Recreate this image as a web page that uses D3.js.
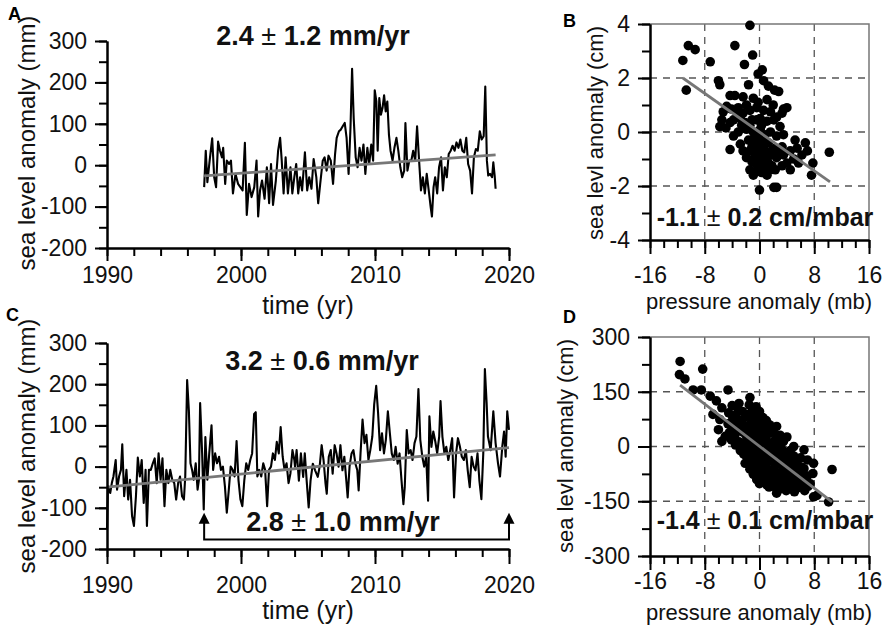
<!DOCTYPE html>
<html>
<head>
<meta charset="utf-8">
<script src="https://cdn.jsdelivr.net/npm/d3@7"></script>
<style>
  body { margin: 0; background: #fff; }
  svg { display: block; font-family: "Liberation Sans", Arial, sans-serif; }
  .axis path, .axis line { stroke: #000; stroke-width: 2; }
  .axis text { font-size: 23px; fill: #111; font-family: "Liberation Sans", Arial, sans-serif; }
  .grid { stroke: #555; stroke-width: 1.3; stroke-dasharray: 7,6; }
  .frame { stroke: #777; stroke-width: 1.5; fill: none; }
  .series { fill: none; stroke: #000; stroke-width: 2.1; stroke-linejoin: round; }
  .fit { stroke: #777; stroke-width: 2.8; fill: none; }
  .lbl { fill: #111; }
  .panel { font-size: 18px; font-weight: bold; }
  .note { font-weight: bold; fill: #111; }
</style>
</head>
<body>
<svg id="fig" width="882" height="626"></svg>
<script>
// tick labels
var yearTicks = [1990, 2000, 2010, 2020];
var seaTicks = [-200, -100, 0, 100, 200, 300];
var pressTicks = [-16, -8, 0, 8, 16];
var slaTicksB = [-4, -2, 0, 2, 4];
var slaTicksD = [-300, -150, 0, 150, 300];

// panel A: sea level anomaly (mm)
var seriesA = [[1997.25,-53],[1997.37,35],[1997.49,-41],[1997.66,11],[1997.85,65],[1998.00,-29],[1998.14,-53],[1998.29,57],[1998.43,35],[1998.58,19],[1998.67,42],[1998.82,-45],[1998.94,11],[1999.11,3],[1999.25,11],[1999.40,-68],[1999.59,-21],[1999.78,-45],[1999.95,-53],[2000.12,-61],[2000.29,54],[2000.43,-120],[2000.60,-45],[2000.79,-77],[2000.99,-53],[2001.16,11],[2001.28,-124],[2001.42,-61],[2001.57,-37],[2001.76,-81],[2001.93,-5],[2002.10,-92],[2002.24,3],[2002.39,-96],[2002.60,-37],[2002.77,35],[2002.92,66],[2003.04,11],[2003.18,-68],[2003.33,19],[2003.50,-68],[2003.69,-5],[2003.83,-68],[2003.98,-29],[2004.12,3],[2004.27,-68],[2004.41,-29],[2004.56,-61],[2004.77,31],[2004.94,-61],[2005.09,-29],[2005.26,-57],[2005.42,15],[2005.62,-29],[2005.76,-92],[2005.91,-45],[2006.10,11],[2006.24,19],[2006.39,-13],[2006.53,23],[2006.70,11],[2006.87,-45],[2007.02,27],[2007.14,66],[2007.31,82],[2007.45,86],[2007.59,94],[2007.74,102],[2007.88,66],[2008.03,-21],[2008.17,90],[2008.29,233],[2008.41,114],[2008.56,19],[2008.70,-5],[2008.85,42],[2008.99,11],[2009.14,50],[2009.28,-21],[2009.43,42],[2009.57,3],[2009.72,50],[2009.86,11],[2009.98,181],[2010.10,154],[2010.20,35],[2010.32,162],[2010.44,122],[2010.56,138],[2010.68,169],[2010.80,130],[2010.92,154],[2011.04,74],[2011.16,35],[2011.31,11],[2011.45,42],[2011.60,66],[2011.74,35],[2011.89,-5],[2012.03,-29],[2012.18,-13],[2012.27,102],[2012.42,-13],[2012.56,11],[2012.71,11],[2012.85,35],[2013.00,11],[2013.14,94],[2013.29,11],[2013.43,-61],[2013.57,-29],[2013.72,-68],[2013.86,-21],[2014.01,-61],[2014.15,-100],[2014.25,-124],[2014.37,-53],[2014.49,-29],[2014.64,-68],[2014.78,-5],[2014.93,19],[2015.07,-61],[2015.21,-5],[2015.36,-29],[2015.50,27],[2015.65,35],[2015.79,47],[2015.94,35],[2016.08,55],[2016.23,42],[2016.37,62],[2016.52,35],[2016.66,31],[2016.81,66],[2016.95,3],[2017.10,-13],[2017.24,-68],[2017.38,19],[2017.53,39],[2017.67,35],[2017.82,82],[2017.96,62],[2018.11,70],[2018.23,190],[2018.35,11],[2018.45,-25],[2018.59,-21],[2018.74,-29],[2018.83,7],[2018.93,-25],[2019.00,-57]];
var trendA = [[1997.25, -26], [2019.0, 25]];

// panel C
var seriesC = [[1990.00,-152],[1990.07,-48],[1990.24,-64],[1990.36,-40],[1990.48,-24],[1990.65,16],[1990.75,-56],[1990.90,-24],[1991.04,-8],[1991.14,54],[1991.28,-72],[1991.45,-8],[1991.58,-80],[1991.72,-32],[1991.87,-120],[1992.01,-144],[1992.16,-72],[1992.30,22],[1992.45,-24],[1992.59,16],[1992.74,-88],[1992.88,-8],[1992.98,-144],[1993.13,-8],[1993.27,-8],[1993.42,8],[1993.56,20],[1993.71,-40],[1993.85,32],[1994.00,-32],[1994.14,20],[1994.29,-96],[1994.43,-8],[1994.58,-40],[1994.72,-8],[1994.87,-32],[1995.02,-40],[1995.16,-80],[1995.31,-40],[1995.45,-24],[1995.60,-72],[1995.74,-80],[1995.84,-24],[1995.98,210],[1996.11,136],[1996.23,8],[1996.35,-8],[1996.47,-32],[1996.62,8],[1996.76,-56],[1996.86,-32],[1996.95,154],[1997.10,32],[1997.22,-104],[1997.34,72],[1997.49,-32],[1997.63,32],[1997.80,100],[1997.92,-8],[1998.07,32],[1998.21,8],[1998.36,24],[1998.50,-8],[1998.65,0],[1998.80,-48],[1998.94,-112],[1999.09,-56],[1999.23,0],[1999.38,-8],[1999.52,-24],[1999.67,62],[1999.81,-32],[1999.96,-80],[2000.10,-96],[2000.25,-32],[2000.39,8],[2000.54,-8],[2000.69,16],[2000.83,32],[2000.98,128],[2001.10,132],[2001.22,-24],[2001.36,-8],[2001.51,-24],[2001.66,8],[2001.80,-8],[2001.95,-96],[2002.09,-8],[2002.24,0],[2002.38,32],[2002.53,16],[2002.67,60],[2002.82,32],[2002.96,96],[2003.11,24],[2003.25,-8],[2003.40,8],[2003.55,-40],[2003.69,-16],[2003.84,40],[2003.98,16],[2004.03,0],[2004.15,40],[2004.32,-34],[2004.47,32],[2004.64,-25],[2004.76,32],[2004.90,-34],[2005.05,-99],[2005.19,-34],[2005.36,7],[2005.53,-9],[2005.73,-25],[2005.87,0],[2006.02,52],[2006.16,16],[2006.31,-42],[2006.40,-66],[2006.55,24],[2006.70,40],[2006.84,-17],[2006.99,52],[2007.13,32],[2007.28,0],[2007.42,52],[2007.57,-9],[2007.71,24],[2007.86,-34],[2007.96,-75],[2008.10,0],[2008.25,32],[2008.39,40],[2008.54,7],[2008.68,-9],[2008.78,-58],[2008.92,32],[2009.07,114],[2009.22,57],[2009.36,77],[2009.51,16],[2009.65,40],[2009.80,73],[2009.94,151],[2010.09,196],[2010.23,130],[2010.38,40],[2010.52,81],[2010.67,32],[2010.81,65],[2010.96,134],[2011.11,81],[2011.25,32],[2011.40,16],[2011.54,48],[2011.69,7],[2011.83,32],[2011.98,-34],[2012.12,-91],[2012.22,-50],[2012.37,89],[2012.51,32],[2012.66,40],[2012.80,16],[2012.95,57],[2013.09,73],[2013.24,188],[2013.38,65],[2013.53,24],[2013.67,0],[2013.82,24],[2013.96,-83],[2014.06,122],[2014.21,48],[2014.35,85],[2014.50,61],[2014.64,32],[2014.79,73],[2014.89,159],[2015.03,73],[2015.18,32],[2015.32,48],[2015.47,16],[2015.61,40],[2015.76,69],[2015.90,-75],[2016.05,32],[2016.19,69],[2016.34,48],[2016.48,24],[2016.63,16],[2016.78,40],[2016.92,-9],[2017.07,-50],[2017.21,24],[2017.36,0],[2017.50,-9],[2017.65,32],[2017.79,-34],[2017.94,-79],[2018.08,32],[2018.20,237],[2018.33,155],[2018.43,73],[2018.63,40],[2018.83,134],[2019.00,57],[2019.18,8],[2019.33,-24],[2019.50,49],[2019.63,85],[2019.75,24],[2019.87,134],[2020.00,89]];
var trendC = [[1990, -50], [2020, 46]];
var bracketC = [1997.25, 2020];

// panel B: pressure anomaly (mb) vs sea level anomaly (cm)
var scatterB = [[-1.4,3.95],[-10.4,3.2],[-9.4,3.05],[-11.2,2.65],[-7.2,2.6],[-3.6,3.2],[-1.0,2.85],[-2.2,2.5],[0.4,2.3],[-0.2,2.15],[-10.7,1.55],[-6.0,1.9],[-5.8,1.75],[-1.6,1.75],[0.6,1.9],[1.3,1.7],[2.2,1.55],[2.8,1.5],[-4.3,1.35],[-3.6,1.35],[-2.4,1.3],[-0.9,1.25],[-0.2,1.1],[1.1,1.2],[2.0,1.0],[3.5,0.85],[4.0,0.9],[3.3,0.7],[-4.8,0.95],[-5.3,0.75],[-4.1,0.85],[-3.1,0.9],[-1.9,1.0],[-1.4,0.8],[-0.4,0.9],[0.6,0.8],[1.6,0.75],[2.5,0.55],[-5.5,0.45],[-5.8,0.2],[-4.9,0.15],[-3.8,0.45],[-2.8,0.5],[-2.1,0.35],[-1.1,0.45],[0.1,0.5],[1.1,0.4],[2.1,0.45],[3.0,0.2],[-3.1,0.0],[-3.8,-0.15],[-4.3,-0.65],[-2.8,-0.45],[-1.9,0.1],[-0.9,0.0],[0.1,0.1],[0.8,-0.1],[1.6,0.0],[2.5,-0.15],[3.5,-0.1],[-1.6,-0.3],[-0.9,-0.45],[-0.2,-0.35],[0.6,-0.55],[1.3,-0.4],[2.3,-0.6],[3.3,-0.55],[-1.4,-0.7],[-0.6,-0.9],[0.1,-0.75],[0.8,-0.95],[1.6,-0.85],[2.5,-0.95],[3.5,-0.85],[4.5,-0.7],[5.5,-0.6],[5.2,-0.3],[6.7,-0.4],[7.0,-0.7],[6.2,-0.85],[5.0,-1.0],[4.0,-1.15],[-1.1,-1.1],[-0.4,-1.2],[0.6,-1.3],[1.3,-1.15],[2.3,-1.4],[3.3,-1.25],[0.3,-1.5],[1.1,-1.6],[7.8,-1.15],[7.6,-1.6],[10.2,-0.75],[-0.9,-1.6],[2.1,-2.05],[2.5,-2.05],[0.0,-2.15],[5.7,-1.15],[4.5,-1.4],[-1.4,-1.4],[-1.9,-0.95],[-2.4,-0.7],[1.6,-1.4],[-0.6,-0.65],[-0.4,0.45],[0.3,0.25],[-1.4,0.25],[-2.4,0.7],[-3.2,0.65],[-4.3,0.35],[-2.6,0.25],[1.1,-1.0],[1.8,-0.7],[2.8,-0.75],[0.1,-1.15],[0.8,-0.7],[0.1,-0.15],[-0.6,-0.2],[0.8,-0.3],[-1.1,-0.55],[0.3,-0.6],[-0.4,-0.95],[0.8,-1.15],[1.8,-1.25],[-0.4,-1.45]];
var fitB = [[-11.2, 2.0], [10.3, -1.85]];

// panel D
var scatterD = [[-11.6,233],[-11.7,197],[-10.9,185],[-8.3,212],[-9.7,155],[-8.5,155],[-4.6,155],[-7.2,138],[-1.4,134],[-6.3,125],[-5.5,106],[-6.8,88],[-3.1,97],[-5.8,74],[-6.0,46],[-5.0,28],[-5.5,14],[-4.1,18],[10.6,-63],[7.9,-46],[7.8,-74],[7.4,-102],[7.9,-138],[8.4,-134],[10.1,-152],[2.5,55],[5.0,0],[6.5,-9],[7.0,-37],
  [-4.5,92],[-4.6,62],[-4.4,38],[-4.0,112],[-3.9,78],[-3.8,52],[-4.1,24],[-3.5,86],[-3.4,61],[-3.6,31],[-3.5,4],[-3.0,118],[-2.9,72],[-3.1,44],[-3.0,13],[-2.8,-11],[-2.5,96],[-2.6,66],[-2.4,39],[-2.5,9],[-2.3,-21],[-2.0,82],[-2.1,54],[-1.9,29],[-2.0,4],[-1.9,-27],[-2.1,-46],[-1.5,114],[-1.6,88],[-1.4,61],[-1.5,33],[-1.4,11],[-1.6,-16],[-1.5,-41],[-1.4,-62],[-1.0,101],[-0.9,74],[-1.1,51],[-1.0,24],[-0.9,1],[-1.1,-26],[-1.0,-49],[-0.9,-76],[-0.5,109],[-0.6,84],[-0.4,59],[-0.5,36],[-0.6,9],[-0.4,-14],[-0.5,-41],[-0.6,-64],[-0.4,-91],[0.0,96],[0.1,69],[-0.1,46],[0.0,19],[0.1,-6],[-0.1,-31],[0.0,-54],[0.1,-81],[0.0,-102],[0.5,79],[0.6,56],[0.4,29],[0.5,6],[0.6,-21],[0.4,-44],[0.5,-71],[0.6,-96],[1.0,71],[1.1,44],[0.9,21],[1.0,-4],[1.1,-31],[0.9,-54],[1.0,-81],[1.1,-106],[1.5,59],[1.4,36],[1.6,9],[1.5,-16],[1.4,-39],[1.6,-66],[1.5,-89],[1.4,-111],[2.0,41],[2.1,14],[1.9,-11],[2.0,-36],[2.1,-59],[1.9,-86],[2.0,-109],[2.5,24],[2.4,1],[2.6,-26],[2.5,-49],[2.4,-76],[2.6,-99],[2.5,-128],[3.0,31],[3.1,4],[2.9,-21],[3.0,-44],[3.1,-71],[2.9,-94],[3.0,-116],[3.5,14],[3.4,-11],[3.6,-36],[3.5,-59],[3.4,-86],[3.6,-109],[4.0,26],[4.1,-21],[3.9,-44],[4.0,-71],[4.1,-94],[3.9,-121],[4.5,-11],[4.4,-34],[4.6,-61],[4.5,-84],[4.4,-107],[5.0,-26],[5.1,-51],[4.9,-74],[5.0,-99],[5.1,-124],[5.5,-41],[5.4,-64],[5.6,-91],[5.5,-114],[6.0,-31],[6.1,-56],[5.9,-79],[6.0,-104],[6.5,-61],[6.4,-89],[6.6,-121],[7.0,-81],[7.1,-109]];
var fitD = [[-11.6, 168], [10.6, -152]];

var svg = d3.select('#fig');
var fmt = function(d) { return d < 0 ? '-' + Math.abs(d) : String(d); };

function rateText(g, x, y, size, a, b) {
  var t = g.append('text').attr('class', 'note').attr('x', x).attr('y', y)
    .attr('text-anchor', 'middle').attr('font-size', size);
  t.append('tspan').text(a + ' ');
  t.append('tspan').attr('font-weight', 'normal').text('\u00b1');
  t.append('tspan').text(' ' + b);
}

function drawAxes(g, x, y, o) {
  var bottom = y.range()[0], left = x.range()[0];
  g.append('g').attr('class', 'axis').attr('transform', 'translate(0,' + bottom + ')')
    .call(d3.axisBottom(x).tickValues(o.xMinor).tickSize(o.minor).tickSizeOuter(0).tickFormat(''));
  g.append('g').attr('class', 'axis').attr('transform', 'translate(0,' + bottom + ')')
    .call(d3.axisBottom(x).tickValues(o.xTicks).tickSize(o.major).tickPadding(o.xPad).tickSizeOuter(0).tickFormat(fmt));
  g.append('g').attr('class', 'axis').attr('transform', 'translate(' + left + ',0)')
    .call(d3.axisLeft(y).tickValues(o.yMinor).tickSize(o.minor).tickSizeOuter(0).tickFormat(''));
  g.append('g').attr('class', 'axis').attr('transform', 'translate(' + left + ',0)')
    .call(d3.axisLeft(y).tickValues(o.yTicks).tickSize(12).tickPadding(8).tickSizeOuter(0).tickFormat(fmt));
}

function timePanel(o) {
  var g = svg.append('g');
  var x = d3.scaleLinear().domain([1990, 2020]).range([107, 509]);
  var y = d3.scaleLinear().domain([-200, 300]).range(o.yRange);
  var line = d3.line().x(function(d) { return x(d[0]); }).y(function(d) { return y(d[1]); });

  g.append('path').datum(o.data).attr('class', 'series').attr('d', line);
  g.append('path').datum(o.trend).attr('class', 'fit').attr('d', line);

  drawAxes(g, x, y, {
    xTicks: yearTicks, xMinor: d3.range(1990, 2021, 2),
    yTicks: seaTicks, yMinor: d3.range(-200, 301, 50),
    major: o.major, minor: 8, xPad: o.xPad
  });

  g.append('text').attr('class', 'lbl').attr('font-size', 25).attr('text-anchor', 'middle')
    .attr('x', 308).attr('y', o.xLabelY).text('time (yr)');
  g.append('text').attr('class', 'lbl').attr('font-size', 24).attr('text-anchor', 'middle')
    .attr('transform', 'translate(35,' + o.yLabelY + ') rotate(-90)').text('sea level anomaly (mm)');
  g.append('text').attr('class', 'panel').attr('x', o.letterX).attr('y', o.letterY).text(o.letter);
  return { g: g, x: x, y: y };
}

function scatterPanel(o) {
  var g = svg.append('g');
  var x = d3.scaleLinear().domain([-16, 16]).range([650, 869]);
  var y = d3.scaleLinear().domain(o.yDomain).range(o.yRange);
  var top = o.yRange[1], bottom = o.yRange[0];

  g.append('g').selectAll('line.v').data(o.xGrid).join('line').attr('class', 'grid')
    .attr('x1', function(d) { return x(d); }).attr('x2', function(d) { return x(d); })
    .attr('y1', top).attr('y2', bottom);
  g.append('g').selectAll('line.h').data(o.yGrid).join('line').attr('class', 'grid')
    .attr('x1', 650).attr('x2', 869)
    .attr('y1', function(d) { return y(d); }).attr('y2', function(d) { return y(d); });

  g.append('path').attr('class', 'frame').attr('d', 'M650,' + top + 'H869V' + bottom);

  g.append('g').selectAll('circle').data(o.data).join('circle')
    .attr('cx', function(d) { return x(d[0]); })
    .attr('cy', function(d) { return y(d[1]); })
    .attr('r', 4.8).attr('fill', '#000');

  g.append('line').attr('class', 'fit')
    .attr('x1', x(o.fit[0][0])).attr('y1', y(o.fit[0][1]))
    .attr('x2', x(o.fit[1][0])).attr('y2', y(o.fit[1][1]));

  drawAxes(g, x, y, {
    xTicks: pressTicks, xMinor: d3.range(-16, 17, 2),
    yTicks: o.yTicks, yMinor: o.yMinor,
    major: 14, minor: 8, xPad: o.xPad
  });

  g.append('text').attr('class', 'lbl').attr('font-size', 22).attr('text-anchor', 'middle')
    .attr('x', 759).attr('y', o.xLabelY).text('pressure anomaly (mb)');
  g.append('text').attr('class', 'lbl').attr('font-size', 22).attr('text-anchor', 'middle')
    .attr('transform', 'translate(' + o.yLabelX + ',' + o.yLabelY + ') rotate(-90)').text('sea levl anomaly (cm)');
  g.append('text').attr('class', 'panel').attr('x', 563).attr('y', o.letterY).text(o.letter);
  rateText(g, 765, o.noteY, 25, o.note[0], o.note[1]);
}

var A = timePanel({ data: seriesA, trend: trendA, yRange: [248, 41], major: 13, xPad: 6,
  xLabelY: 314, yLabelY: 143, letter: 'A', letterX: 8, letterY: 20 });
rateText(A.g, 313, 45, 27, '2.4', '1.2 mm/yr');

var C = timePanel({ data: seriesC, trend: trendC, yRange: [549, 343], major: 15, xPad: 13,
  xLabelY: 619, yLabelY: 446, letter: 'C', letterX: 6, letterY: 321 });
rateText(C.g, 322, 370, 27, '3.2', '0.6 mm/yr');

// bracket for the 1997-2020 subset
var bx0 = C.x(bracketC[0]), bx1 = C.x(bracketC[1]);
var bTop = C.y(-112), bBase = C.y(-177);
C.g.append('path').attr('fill', 'none').attr('stroke', '#000').attr('stroke-width', 2)
  .attr('d', 'M' + bx0 + ',' + (bTop + 8) + 'V' + bBase + 'H' + bx1 + 'V' + (bTop + 8));
[bx0, bx1].forEach(function(bx) {
  C.g.append('path').attr('fill', '#000')
    .attr('d', 'M' + (bx - 5.5) + ',' + (bTop + 11) + 'L' + bx + ',' + bTop + 'L' + (bx + 5.5) + ',' + (bTop + 11) + 'Z');
});
rateText(C.g, 343, 531, 27, '2.8', '1.0 mm/yr');

scatterPanel({ data: scatterB, fit: fitB, yDomain: [-4, 4], yRange: [240, 24],
  yTicks: slaTicksB, yMinor: d3.range(-4, 5, 1), xGrid: [-8, 0, 8], yGrid: [-2, 0, 2],
  xPad: 13, xLabelY: 309, yLabelX: 603, yLabelY: 133, letter: 'B', letterY: 27,
  noteY: 226, note: ['-1.1', '0.2 cm/mbar'] });

scatterPanel({ data: scatterD, fit: fitD, yDomain: [-300, 300], yRange: [556, 337],
  yTicks: slaTicksD, yMinor: d3.range(-300, 301, 75), xGrid: [-8, 0, 8], yGrid: [-150, 0, 150],
  xPad: 3, xLabelY: 620, yLabelX: 573, yLabelY: 446, letter: 'D', letterY: 323,
  noteY: 529, note: ['-1.4', '0.1 cm/mbar'] });
</script>
</body>
</html>
